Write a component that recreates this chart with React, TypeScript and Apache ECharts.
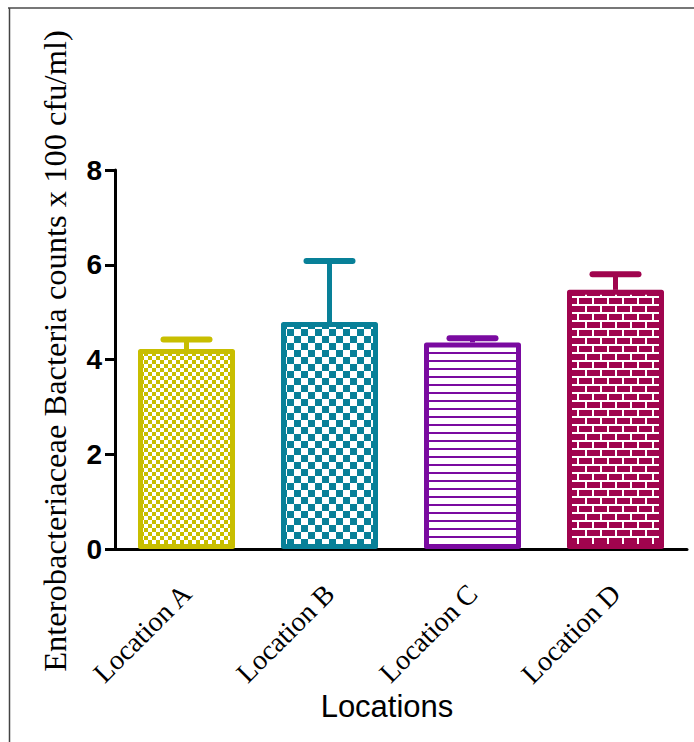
import React, { useEffect, useRef } from "react";
import * as echarts from "echarts";

const categories = ["Location A", "Location B", "Location C", "Location D"];
const means = [4.22, 4.79, 4.36, 5.47];
const sem = [0.2, 1.29, 0.09, 0.33];
const colors = ["#c8be00", "#088098", "#7a0aa0", "#a0044e"];
const yTitle = "Enterobacteriaceae Bacteria counts x 100 cfu/ml)";
const xTitle = "Locations";

function makeCanvas(w: number, h: number, draw: (c: CanvasRenderingContext2D) => void) {
  const cv = document.createElement("canvas");
  cv.width = w;
  cv.height = h;
  const ctx = cv.getContext("2d")!;
  draw(ctx);
  return cv;
}

function patterns() {
  const a = makeCanvas(8, 8, (c) => {
    c.fillStyle = "#fff";
    c.fillRect(0, 0, 8, 8);
    c.fillStyle = colors[0];
    c.fillRect(0, 0, 4, 4);
    c.fillRect(4, 4, 4, 4);
  });
  const b = makeCanvas(14, 14, (c) => {
    c.fillStyle = "#fff";
    c.fillRect(0, 0, 14, 14);
    c.fillStyle = colors[1];
    c.fillRect(0, 0, 7, 7);
    c.fillRect(7, 7, 7, 7);
  });
  const cc = makeCanvas(8, 8, (c) => {
    c.fillStyle = "#fff";
    c.fillRect(0, 0, 8, 8);
    c.fillStyle = colors[2];
    c.fillRect(0, 0, 8, 2);
  });
  const d = makeCanvas(30, 16, (c) => {
    c.fillStyle = colors[3];
    c.fillRect(0, 0, 30, 16);
    c.fillStyle = "#fff";
    c.fillRect(0, 0, 30, 2);
    c.fillRect(0, 8, 30, 2);
    c.fillRect(0, 0, 2, 8);
    c.fillRect(15, 0, 2, 8);
    c.fillRect(7, 8, 2, 8);
    c.fillRect(22, 8, 2, 8);
  });
  return [a, b, cc, d].map((cv) => ({
    image: cv,
    repeat: "repeat",
    imageWidth: cv.width,
    imageHeight: cv.height,
  }));
}

export default function App() {
  const ref = useRef<HTMLDivElement>(null);
  useEffect(() => {
    const chart = echarts.init(ref.current!, undefined, { renderer: "svg" });
    const pats = patterns();
    const option: any = {
      animation: false,
      backgroundColor: "#fff",
      grid: { left: 115, right: 7, top: 170, bottom: 193, containLabel: false },
      xAxis: {
        type: "category",
        data: categories,
        axisLine: { lineStyle: { color: "#000", width: 3 } },
        axisTick: { alignWithLabel: true, length: 10, lineStyle: { color: "#000", width: 3 } },
        axisLabel: {
          rotate: 45,
          margin: 40,
          fontFamily: "'Times New Roman', 'Liberation Serif', serif",
          fontSize: 28,
          color: "#000",
        },
      },
      yAxis: {
        type: "value",
        min: 0,
        max: 8,
        interval: 2,
        splitLine: { show: false },
        axisLine: { show: true, lineStyle: { color: "#000", width: 3 } },
        axisTick: { show: true, length: 10, lineStyle: { color: "#000", width: 3 } },
        axisLabel: {
          margin: 13,
          fontFamily: "Arial, 'Liberation Sans'",
          fontWeight: "bold",
          fontSize: 28,
          color: "#000",
        },
      },
      graphic: [
        { type: "line", shape: { x1: 8, y1: 8, x2: 694, y2: 8 }, style: { stroke: "#777", lineWidth: 2 } },
        { type: "line", shape: { x1: 9.5, y1: 8, x2: 9.5, y2: 742 }, style: { stroke: "#444", lineWidth: 1.5 } },
        {
          type: "text",
          x: 55,
          y: 351,
          rotation: Math.PI / 2,
          style: {
            text: yTitle,
            fontFamily: "'Times New Roman', 'Liberation Serif', serif",
            fontSize: 32.5,
            fill: "#000",
            textAlign: "center",
            textVerticalAlign: "middle",
          },
        },
        {
          type: "text",
          x: 387,
          y: 706,
          style: {
            text: xTitle,
            fontFamily: "Arial, 'Liberation Sans'",
            fontSize: 31,
            fill: "#000",
            textAlign: "center",
            textVerticalAlign: "middle",
          },
        },
      ],
      series: [
        {
          type: "bar",
          barWidth: 97,
          data: means.map((v, i) => ({
            value: v,
            itemStyle: {
              color: pats[i],
              borderColor: colors[i],
              borderWidth: 5,
              borderJoin: "round",
            },
          })),
          z: 2,
        },
        {
          type: "custom",
          z: 3,
          data: means.map((v, i) => [i, v, v + sem[i]]),
          renderItem: (params: any, api: any) => {
            const i = api.value(0);
            const base = api.coord([i, api.value(1)]);
            const top = api.coord([i, api.value(2)]);
            const c = colors[params.dataIndex];
            return {
              type: "group",
              children: [
                {
                  type: "line",
                  shape: { x1: base[0], y1: base[1], x2: top[0], y2: top[1] },
                  style: { stroke: c, lineWidth: 5 },
                },
                {
                  type: "line",
                  shape: { x1: top[0] - 23, y1: top[1], x2: top[0] + 23, y2: top[1] },
                  style: { stroke: c, lineWidth: 6, lineCap: "round" },
                },
              ],
            };
          },
        },
      ],
    };
    chart.setOption(option);
    return () => chart.dispose();
  }, []);
  return (
    <div
      ref={ref}
      style={{ position: "fixed", left: 0, top: 0, width: 694, height: 742 }}
    />
  );
}
